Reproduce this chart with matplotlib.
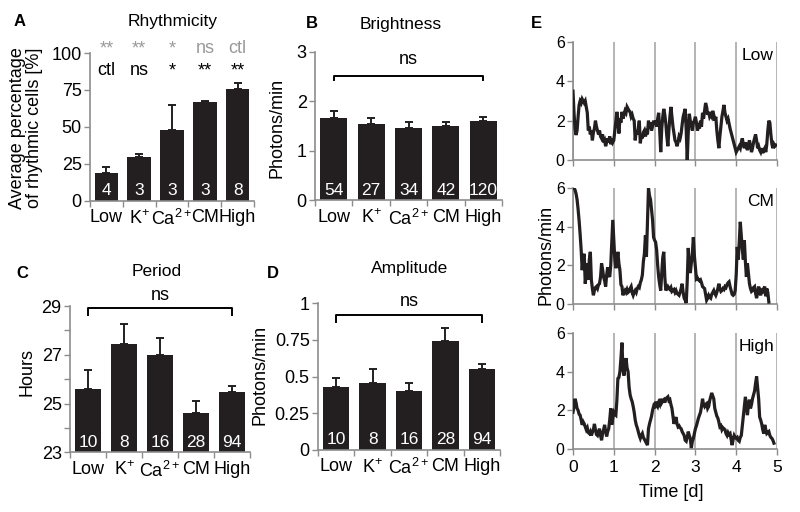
import numpy as np
import matplotlib
matplotlib.use('Agg')
import matplotlib.pyplot as plt

plt.rcParams['font.family'] = ['Liberation Sans', 'DejaVu Sans']
plt.rcParams['mathtext.fontset'] = 'custom'
plt.rcParams['mathtext.rm'] = 'Liberation Sans'
plt.rcParams['mathtext.it'] = 'Liberation Sans'

# bar panel data
groups = ['Low', r'K$^{\mathrm{+}}$', r'Ca$^{\mathrm{2+}}$', 'CM', 'High']

rhythm_mean = [18.5, 29.7, 48.2, 66.9, 75.5]
rhythm_err = [4.0, 1.8, 16.4, 0.7, 4.2]
rhythm_n = [4, 3, 3, 3, 8]
sig_gray = ['**', '**', '*', 'ns', 'ctl']
sig_black = ['ctl', 'ns', '*', '**', '**']

bright_mean = [1.66, 1.54, 1.46, 1.50, 1.60]
bright_err = [0.14, 0.12, 0.12, 0.08, 0.08]
bright_n = [54, 27, 34, 42, 120]

period_mean = [25.61, 27.44, 26.99, 24.63, 25.49]
period_err = [0.76, 0.82, 0.68, 0.47, 0.24]
period_n = [10, 8, 16, 28, 94]

amp_mean = [0.432, 0.455, 0.400, 0.745, 0.552]
amp_err = [0.057, 0.095, 0.060, 0.089, 0.032]
amp_n = [10, 8, 16, 28, 94]

# single cell traces, one value every 0.025 d
dt = 0.025
trace_low = [
    3.5, 2.4, 1.6, 1.27, 1.5, 2.2, 2.8, 3.0, 2.9, 3.1,
    3.0, 2.9, 3.0, 2.7, 2.4, 1.5, 1.7, 1.3, 1.5, 1.0,
    1.4, 1.6, 2.0, 1.7, 1.5, 1.3, 1.5, 1.2, 1.1, 1.3,
    0.9, 1.0, 0.7, 0.9, 1.1, 0.9, 1.2, 0.8, 1.1, 0.9,
    1.0, 1.5, 2.0, 2.45, 2.0, 1.35, 2.1, 1.9, 2.45, 2.1,
    2.3, 2.5, 2.4, 2.7, 2.6, 2.5, 2.45, 2.2, 2.3, 2.1,
    2.0, 1.0, 1.5, 1.3, 1.6, 2.0, 0.85, 1.3, 1.1, 1.4,
    1.5, 1.2, 1.4, 1.3, 2.0, 1.6, 1.9, 1.5, 1.7, 2.0,
    1.8, 2.0, 1.7, 2.1, 2.4, 1.5, 0.4, 1.6, 2.2, 2.6,
    2.3, 1.85, 1.2, 0.7, 1.5, 2.2, 2.7, 2.2, 1.7, 1.35,
    1.0, 0.9, 0.7, 0.9, 1.2, 1.1, 1.35, 1.8, 2.2, 2.4,
    2.6, 1.5, 0.0, 1.4, 2.35, 2.0, 1.8, 1.5, 1.9, 2.0,
    2.2, 1.9, 1.5, 1.7, 1.6, 2.0, 1.7, 2.4, 2.1, 2.5,
    2.9, 2.7, 2.3, 2.45, 2.2, 2.3, 2.2, 2.5, 2.3, 2.0,
    2.2, 1.5, 1.0, 0.6, 1.2, 1.7, 2.2, 2.5, 2.8, 2.4,
    2.2, 2.0, 2.1, 1.85, 1.6, 1.4, 1.2, 1.0, 0.8, 0.6,
    0.4, 0.5, 0.6, 0.7, 0.6, 0.9, 1.1, 0.8, 0.6, 0.9,
    0.7, 0.5, 0.8, 1.0, 0.7, 0.4, 0.6, 0.9, 1.1, 1.3,
    1.0, 0.6, 0.7, 0.5, 0.4, 0.6, 0.35, 0.5, 0.6, 0.4,
    0.8, 1.5, 2.0, 1.9, 1.3, 0.8, 0.6, 0.8, 0.7, 0.75,
]
trace_cm = [
    6.0, 6.0, 5.9, 5.7, 5.4, 4.9, 4.3, 3.6, 2.8, 1.75,
    2.4, 2.6, 1.05, 1.6, 2.1, 1.25, 2.3, 2.7, 1.25, 0.8,
    0.45, 0.7, 0.85, 0.9, 0.8, 1.0, 1.05, 1.4, 2.1, 1.8,
    1.4, 1.2, 0.9, 1.5, 1.9, 1.5, 1.4, 2.0, 3.2, 4.35,
    3.3, 2.3, 1.85, 2.2, 2.7, 2.1, 1.75, 1.0, 0.9, 0.45,
    0.6, 0.7, 0.6, 0.75, 0.6, 0.65, 0.8, 0.9, 0.6, 0.45,
    0.6, 0.7, 0.6, 0.8, 0.9, 0.85, 1.1, 1.25, 1.5, 2.2,
    2.6, 3.55, 2.45, 4.2, 6.0, 5.6, 5.4, 4.9, 4.35, 3.45,
    3.3, 3.2, 2.8, 2.0, 1.4, 1.0, 0.7, 1.6, 2.4, 2.7,
    1.4, 0.7, 0.8, 0.9, 0.8, 0.75, 0.85, 0.65, 0.7, 0.75,
    0.6, 0.7, 0.55, 0.5, 0.45, 0.6, 0.8, 1.05, 0.6, 0.3,
    0.2, 0.05, 1.2, 2.9, 2.0, 1.6, 2.1, 2.6, 3.45, 2.5,
    1.9, 1.3, 1.35, 1.25, 1.2, 1.25, 1.1, 0.9, 0.85, 0.8,
    0.5, 0.2, 0.3, 0.45, 0.35, 0.3, 0.5, 0.6, 0.7, 0.55,
    0.45, 0.6, 0.8, 1.05, 0.8, 0.65, 0.7, 0.8, 0.75, 0.9,
    0.85, 1.0, 1.1, 1.15, 0.9, 0.7, 0.5, 0.45, 0.5, 0.7,
    1.5, 2.95, 2.3, 3.2, 4.25, 3.55, 2.8, 2.3, 3.3, 2.2,
    1.4, 2.1, 1.6, 1.05, 0.8, 0.65, 0.7, 0.85, 0.9, 0.55,
    0.3, 0.6, 0.9, 0.6, 0.45, 0.7, 0.65, 0.8, 0.9, 0.4,
    0.8, 0.6, 0.1,
]
trace_high = [
    1.9, 2.2, 2.6, 2.4, 2.1, 2.0, 1.8, 1.75, 1.5, 1.25,
    1.4, 1.3, 1.15, 1.0, 1.1, 0.85, 0.8, 0.9, 0.7, 0.85,
    1.0, 1.3, 1.0, 0.75, 0.7, 0.9, 1.05, 0.7, 0.45, 0.8,
    1.0, 1.25, 0.9, 0.65, 0.9, 1.05, 1.5, 2.1, 1.25, 1.6,
    1.9, 1.8, 1.75, 2.5, 3.65, 3.7, 4.0, 4.7, 5.5, 4.1,
    3.8, 4.3, 4.7, 4.2, 4.0, 3.2, 2.8, 2.6, 2.45, 2.2,
    1.9, 1.5, 1.25, 1.1, 0.9, 0.7, 0.55, 0.7, 0.8, 0.6,
    0.5, 0.4, 0.3, 0.2, 1.05, 1.3, 1.5, 1.7, 2.0, 2.2,
    2.1, 2.45, 2.3, 2.2, 2.4, 2.3, 2.6, 2.4, 2.5, 2.55,
    2.4, 2.6, 2.65, 2.7, 2.5, 2.55, 2.3, 2.1, 1.7, 1.3,
    1.5, 1.65, 1.3, 1.15, 1.2, 1.1, 1.05, 0.9, 0.8, 0.7,
    0.45, 0.4, 0.6, 0.9, 0.7, 0.55, 0.05, 0.4, 0.55, 0.8,
    1.05, 1.2, 1.4, 1.6, 1.75, 1.9, 2.2, 2.6, 2.3, 2.2,
    2.3, 2.35, 2.1, 2.2, 2.5, 2.7, 2.9, 2.75, 2.6, 2.1,
    1.9, 1.7, 1.6, 1.4, 1.15, 1.2, 1.0, 1.1, 1.05, 1.0,
    0.8, 0.7, 0.85, 0.75, 0.8, 0.5, 0.2, 0.5, 0.7, 0.6,
    0.55, 0.6, 0.45, 0.4, 0.6, 0.7, 1.2, 1.75, 2.2, 2.7,
    2.2, 1.75, 2.3, 2.55, 2.1, 2.3, 2.6, 2.8, 3.0, 3.4,
    3.75, 3.2, 2.6, 1.65, 1.5, 1.3, 1.0, 0.8, 1.25, 1.0,
    0.8, 0.85, 0.9, 0.7, 0.6, 0.55, 0.45, 0.3,
]
trace_names = ['Low', 'CM', 'High']

W, H = 800, 512
BAR = '#231f20'
AXC = '#8c8c8c'

fig = plt.figure(figsize=(W / 100, H / 100), dpi=100)


def px_axes(l, t, r, b):
    return fig.add_axes([l / W, 1 - b / H, (r - l) / W, (b - t) / H])


def ftext(x, y, s, **kw):
    fig.text(x / W, 1 - y / H, s, **kw)


def bar_panel(ax, mean, err, n, ylim, yticks, ylabels, minor=None):
    x = np.arange(len(mean))
    ax.bar(x, mean, width=0.72, color=BAR, zorder=2)
    ax.errorbar(x, mean, yerr=[np.zeros(len(err)), err], fmt='none',
                ecolor=BAR, elinewidth=1.4, capsize=3, capthick=1.4, zorder=3)
    for xi, ni in zip(x, n):
        ax.annotate(str(ni), (xi, 0), xycoords=ax.get_xaxis_transform(),
                    xytext=(0, 2), textcoords='offset points',
                    ha='center', va='bottom', color='white', fontsize=12.5, zorder=4)
    ax.set_xlim(-0.5, len(mean) - 0.5)
    ax.set_ylim(*ylim)
    ax.set_xticks(x)
    ax.set_xticklabels(groups, fontsize=13)
    ax.set_xticks(np.arange(-0.5, len(mean)), minor=True)
    ax.set_yticks(yticks)
    ax.set_yticklabels(ylabels, fontsize=13)
    if minor is not None:
        ax.set_yticks(minor, minor=True)
    ax.tick_params(axis='x', which='major', length=0, pad=6)
    ax.tick_params(axis='x', which='minor', length=4, color=AXC, width=1)
    ax.tick_params(axis='y', which='both', length=4, color=AXC, width=1, pad=2)
    for s in ['top', 'right']:
        ax.spines[s].set_visible(False)
    for s in ['left', 'bottom']:
        ax.spines[s].set_color(AXC)
        ax.spines[s].set_linewidth(1.2)


def bracket(ax, y, tip, label_y):
    ax.plot([0, 0, 4, 4], [y - tip, y, y, y - tip], color='black', lw=1.4,
            clip_on=False)
    ax.text(2, label_y, 'ns', ha='center', va='baseline', fontsize=13)


# A
axA = px_axes(90, 53, 254, 200.7)
bar_panel(axA, rhythm_mean, rhythm_err, rhythm_n, (0, 100),
          [0, 25, 50, 75, 100], ['0', '25', '50', '75', '100'])
for i in range(5):
    axA.text(i, 100, sig_gray[i], ha='center', va='baseline', fontsize=13,
             color='#9a9a9a', clip_on=False)
    axA.text(i, 85, sig_black[i], ha='center', va='baseline', fontsize=13,
             color='black', clip_on=False)

# B
axB = px_axes(315, 51.7, 502, 200.3)
bar_panel(axB, bright_mean, bright_err, bright_n, (0, 3),
          [0, 1, 2, 3], ['0', '1', '2', '3'])
bracket(axB, 2.51, 0.09, 2.75)

# C
axC = px_axes(70, 306, 250, 452.3)
bar_panel(axC, period_mean, period_err, period_n, (23, 29),
          [23, 25, 27, 29], ['23', '25', '27', '29'], minor=[24, 26, 28])
bracket(axC, 28.9, 0.28, 29.25)

# D
axD = px_axes(318, 303.3, 500, 450)
bar_panel(axD, amp_mean, amp_err, amp_n, (0, 1),
          [0, 0.25, 0.5, 0.75, 1], ['0', '0.25', '0.5', '0.75', '1'])
bracket(axD, 0.92, 0.045, 0.98)

# E traces
traces = [trace_low, trace_cm, trace_high]
boxes = [(573, 42, 777, 160), (573, 188, 777, 304), (573, 333, 777, 449)]
for k, (vals, name, box) in enumerate(zip(traces, trace_names, boxes)):
    ax = px_axes(*box)
    t = np.arange(len(vals)) * dt
    ax.plot(t, vals, color=BAR, lw=2.3, solid_joinstyle='miter', zorder=3)
    ax.set_xlim(0, 5)
    ax.set_ylim(0, 6)
    ax.set_xticks(range(6))
    ax.set_yticks([0, 2, 4, 6])
    ax.grid(axis='x', color='#a0a0a0', lw=1.1, zorder=0)
    ax.tick_params(axis='both', length=4, color=AXC, width=1)
    ax.tick_params(axis='y', labelsize=11.5, pad=2)
    ax.tick_params(axis='x', labelsize=12.5, pad=4)
    if k < 2:
        ax.set_xticklabels([])
    for s in ['top', 'right']:
        ax.spines[s].set_visible(False)
    for s in ['left', 'bottom']:
        ax.spines[s].set_color(AXC)
        ax.spines[s].set_linewidth(1.2)
    ax.text(0.985, 0.95, name, transform=ax.transAxes, ha='right', va='top',
            fontsize=12.5, bbox=dict(facecolor='white', edgecolor='none', pad=0.5),
            zorder=4)

# axis labels and titles
ftext(26, 128, 'Average percentage\nof rhythmic cells [%]', rotation=90,
      ha='center', va='center', fontsize=13, linespacing=1.05, multialignment='center')
ftext(277, 128, 'Photons/min', rotation=90, ha='center', va='center', fontsize=13)
ftext(27, 372, 'Hours', rotation=90, ha='center', va='center', fontsize=13)
ftext(260, 375, 'Photons/min', rotation=90, ha='center', va='center', fontsize=13)
ftext(546, 255, 'Photons/min', rotation=90, ha='center', va='center', fontsize=13)
ftext(671, 497, 'Time [d]', ha='center', va='baseline', fontsize=13)

ftext(173, 26, 'Rhythmicity', ha='center', va='baseline', fontsize=12.5)
ftext(401, 29, 'Brightness', ha='center', va='baseline', fontsize=12.5)
ftext(157, 276, 'Period', ha='center', va='baseline', fontsize=12.5)
ftext(410, 273, 'Amplitude', ha='center', va='baseline', fontsize=12.5)

for letter, x, y in [('A', 20, 22), ('B', 312, 24), ('C', 22, 273),
                     ('D', 273, 273), ('E', 536, 24)]:
    ftext(x, y, letter, ha='center', va='center', fontsize=12, fontweight='bold')

fig.savefig('out.png', dpi=100)
